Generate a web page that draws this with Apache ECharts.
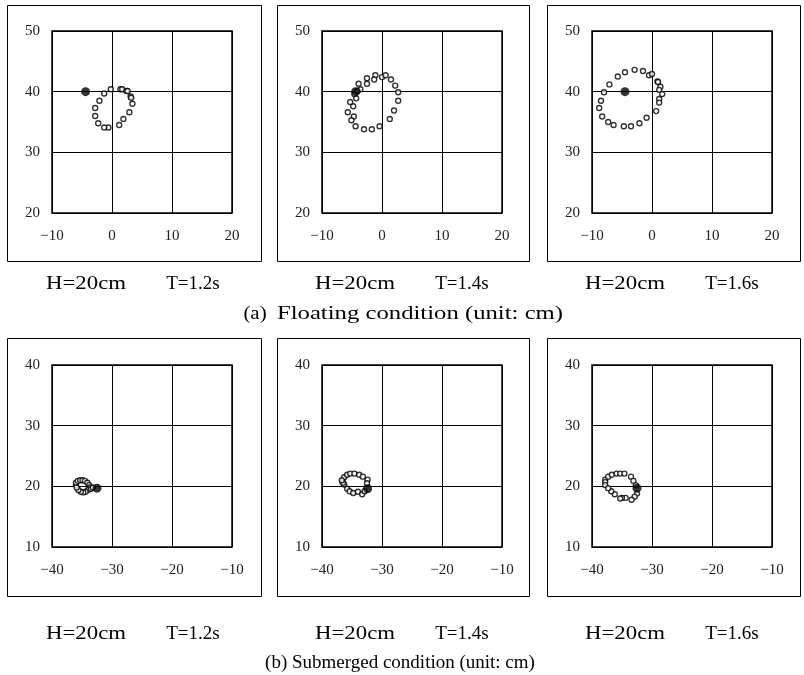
<!DOCTYPE html>
<html><head><meta charset="utf-8">
<script src="https://cdn.jsdelivr.net/npm/echarts@6/dist/echarts.min.js"></script>
<style>html,body{margin:0;padding:0;background:#fff}#c{width:804px;height:675px}</style>
</head><body><div id="c"></div>
<script>
// ---- data (unit: cm) ----
const floatXRange = [-10, 20];
const floatYRange = [20, 50];
const subXRange = [-40, -10];
const subYRange = [10, 40];
const tickStep = 10;

const floatT12 = [[-0.2,40.4],[1.4,40.4],[1.7,40.4],[2.4,40.1],[2.6,40.1],[3.1,39.2],[3.2,39.0],[3.4,38.0],[2.9,36.6],[1.9,35.5],[1.2,34.5],[-0.6,34.1],[-1.3,34.1],[-2.3,34.8],[-2.8,36.0],[-2.8,37.3],[-2.1,38.5],[-1.3,39.7]];
const floatT14 = [[-3.9,41.3],[-2.5,42.2],[-2.5,41.3],[-1.1,42.7],[-1.3,42.0],[0.0,42.4],[0.6,42.7],[1.5,42.0],[2.2,41.0],[2.7,39.9],[2.7,38.5],[2.0,36.9],[1.3,35.5],[-0.4,34.3],[-1.7,33.8],[-3.0,33.8],[-4.4,34.3],[-4.7,35.9],[-5.1,35.3],[-5.7,36.6],[-4.8,37.6],[-5.3,38.3],[-4.3,38.9],[-3.6,40.4],[-4.6,39.6],[-4.1,40.1]];
const floatT16 = [[-2.9,43.6],[-1.5,43.4],[-0.5,42.7],[0.0,42.9],[0.9,41.7],[1.0,41.6],[1.4,40.8],[1.2,40.3],[1.7,39.6],[1.2,38.8],[1.2,38.2],[0.7,36.8],[-0.9,35.7],[-2.1,34.8],[-3.5,34.3],[-4.7,34.3],[-6.4,34.5],[-7.3,35.0],[-8.3,35.9],[-8.8,37.3],[-8.5,38.5],[-8.0,39.9],[-7.1,41.2],[-5.7,42.5],[-4.5,43.2]];
const subT12 = [[-36.0,20.2],[-36.0,20.6],[-35.7,20.9],[-35.3,21.0],[-34.9,21.0],[-34.5,20.9],[-34.1,20.6],[-33.8,20.2],[-33.7,19.8],[-34.0,19.4],[-34.4,19.1],[-34.8,19.0],[-35.2,19.1],[-35.6,19.4],[-35.9,19.8],[-33.5,19.6],[-33.2,19.8]];
const subT14 = [[-36.6,20.8],[-36.3,21.5],[-35.8,21.9],[-35.3,22.1],[-34.6,22.1],[-33.8,21.9],[-33.2,21.6],[-32.4,21.1],[-32.5,20.5],[-36.3,20.3],[-35.8,19.6],[-35.4,19.2],[-34.8,18.9],[-34.0,19.1],[-33.3,18.7],[-32.9,19.2],[-36.5,20.6],[-36.7,21.0]];
const subT16 = [[-37.8,21.1],[-37.8,20.7],[-37.8,20.2],[-37.3,21.6],[-36.7,21.9],[-35.9,22.1],[-35.3,22.1],[-34.6,22.1],[-33.5,21.6],[-33.1,20.9],[-32.7,20.2],[-32.5,18.8],[-32.9,18.3],[-33.4,17.8],[-34.4,18.1],[-35.0,18.1],[-35.3,18.0],[-36.2,18.7],[-36.8,19.2],[-37.3,19.7]];
const startFloat = [[-4.4,40.0],[-4.4,40.0],[-4.5,40.0]];
const startSub = [[-32.5,19.7],[-32.4,19.6],[-32.5,19.7]];

const captionH = 'H=20cm';
const captionT = ['T=1.2s','T=1.4s','T=1.6s'];
const groupTagA = '(a)';
const groupTextA = 'Floating condition (unit: cm)';
const groupTextB = '(b) Submerged condition (unit: cm)';

// ---- layout ----
const gridLefts = [52, 322, 592];
const gridTops = [31, 365];
const gw = 180, gh = 182;
const frames = [[7,5,254,256],[277,5,252,256],[547,5,253,256]];
const framesB = [[7,338,254,258],[277,338,252,258],[547,338,253,258]];
const hX = [86, 355, 625];
const tX = [193, 462, 732];

const chart = echarts.init(document.getElementById('c'));
const serif = '"Liberation Serif","DejaVu Serif",serif';
const fmt = v => (v < 0 ? '\u2212' + Math.abs(v) : String(v));

const grids = [], xAxes = [], yAxes = [], series = [];
const openSets = [floatT12, floatT14, floatT16, subT12, subT14, subT16];
const startSets = [startFloat[0], startFloat[1], startFloat[2], startSub[0], startSub[1], startSub[2]];
for (let i = 0; i < 6; i++) {
  const row = Math.floor(i / 3), col = i % 3;
  grids.push({left: gridLefts[col], top: gridTops[row], width: gw, height: gh, show: true, borderColor: '#000', borderWidth: 1.5, backgroundColor: '#fff'});
  const xr = row === 0 ? floatXRange : subXRange;
  const yr = row === 0 ? floatYRange : subYRange;
  xAxes.push({type: 'value', gridIndex: i, min: xr[0], max: xr[1], interval: tickStep,
    axisLine: {show: false}, axisTick: {show: false},
    splitLine: {show: true, lineStyle: {color: '#000', width: 1}},
    axisLabel: {margin: 16, color: '#222', fontFamily: serif, fontSize: 15, formatter: fmt}});
  yAxes.push({type: 'value', gridIndex: i, min: yr[0], max: yr[1], interval: tickStep,
    axisLine: {show: false}, axisTick: {show: false},
    splitLine: {show: true, lineStyle: {color: '#000', width: 1}},
    axisLabel: {margin: 12, color: '#222', fontFamily: serif, fontSize: 15, formatter: fmt}});
  series.push({type: 'scatter', xAxisIndex: i, yAxisIndex: i, data: openSets[i], symbol: 'circle', symbolSize: 5,
    itemStyle: {color: '#fff', borderColor: '#000', borderWidth: 1.4}, silent: true, z: 3});
  series.push({type: 'scatter', xAxisIndex: i, yAxisIndex: i, data: [startSets[i]], symbol: 'circle', symbolSize: 9,
    itemStyle: {color: '#000'}, silent: true, z: 4});
}

const graphics = [];
frames.concat(framesB).forEach(f => graphics.push({type: 'rect', z: -10, silent: true,
  shape: {x: f[0] + 0.5, y: f[1] + 0.5, width: f[2], height: f[3]},
  style: {fill: '#fff', stroke: '#000', lineWidth: 1}}));
function txt(s, x, y, size, sx) {
  return {type: 'text', silent: true, x: x, y: y, scaleX: sx || 1,
    style: {text: s, font: size + 'px ' + serif, fill: '#000', align: 'center', verticalAlign: 'middle', textAlign: 'center', textVerticalAlign: 'middle'}};
}
const capY = [284, 634];
for (let r = 0; r < 2; r++) for (let c = 0; c < 3; c++) {
  graphics.push(txt(captionH, hX[c], capY[r], 19, 1.2));
  graphics.push(txt(captionT[c], tX[c], capY[r], 19, 1));
}
graphics.push(txt(groupTagA, 255, 314, 19, 1.1));
graphics.push(txt(groupTextA, 420, 314, 19, 1.3));
graphics.push(txt(groupTextB, 400, 663, 19, 1.0));

chart.setOption({
  backgroundColor: '#fff',
  animation: false,
  grid: grids, xAxis: xAxes, yAxis: yAxes, series: series,
  graphic: {elements: graphics}
});
</script></body></html>
